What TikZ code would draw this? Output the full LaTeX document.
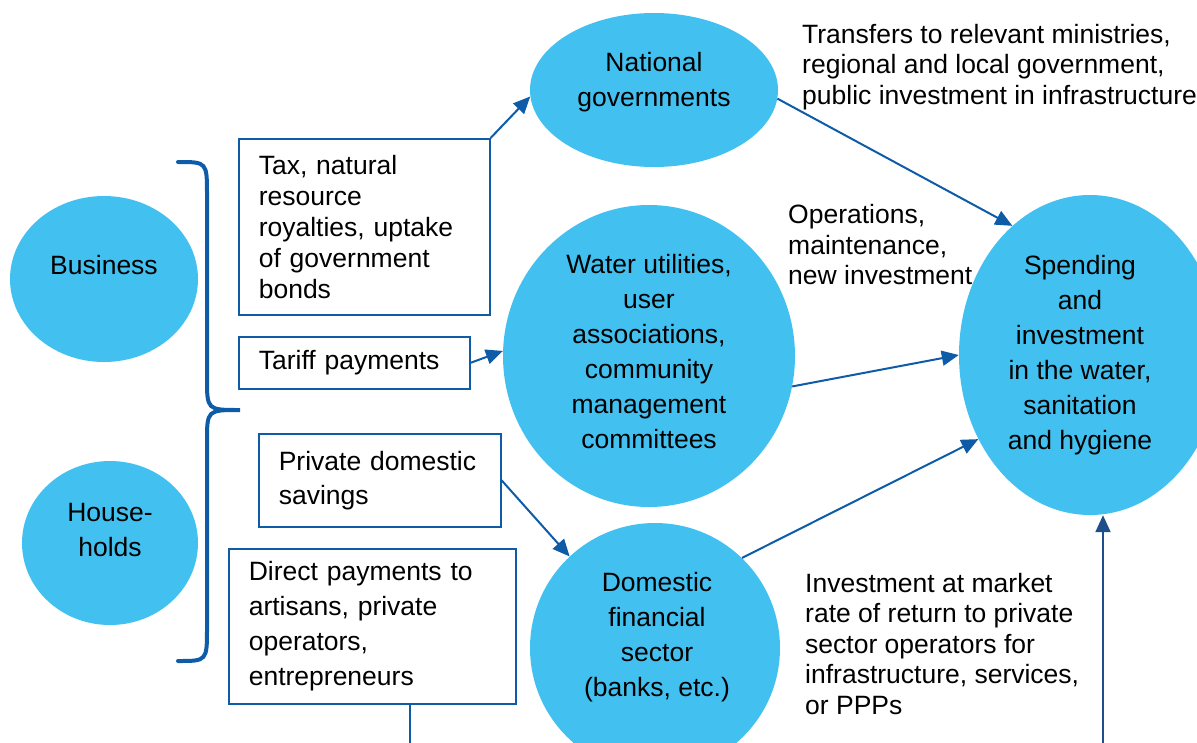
\documentclass[tikz,border=0pt]{standalone}
\usepackage{fontspec}
\setmainfont{Liberation Sans}
\usetikzlibrary{shapes.geometric,arrows.meta}
\definecolor{wsblue}{RGB}{66,193,240}
\definecolor{wsline}{RGB}{14,92,168}
\definecolor{wsnavy}{RGB}{31,78,138}
\begin{document}
\begin{tikzpicture}[x=1pt,y=-1pt,
  every node/.style={font=\fontsize{26.5}{35}\selectfont},
  pool/.style={ellipse,fill=wsblue,draw=none,inner sep=0pt},
  words/.style={inner sep=0pt,align=center},
  note/.style={inner sep=0pt,align=left,anchor=west,font=\fontsize{26.5}{30.5}\selectfont},
  flowbox/.style={draw=wsline,line width=1.6pt,anchor=north west,inner xsep=20pt,inner ysep=0pt,align=left},
  flow/.style={draw=wsline,line width=2pt,-{Triangle[length=17pt,width=15pt]}}]
\useasboundingbox (0,0) rectangle (1197,742);
% sources of money
\node[pool,minimum width=188,minimum height=166] (business) at (104,279) {};
\node[words] (businesstext) at (104,265) {Business};
\node[pool,minimum width=176,minimum height=164] (households) at (110,543) {};
\node[words] (householdstext) at (110,530) {House-\\holds};
\draw[wsline,line width=4pt,line cap=round] (178,162) .. controls (207,162) .. (207,195) -- (207,378)
  .. controls (207,410) .. (240,410) .. controls (207,410) .. (207,442) -- (207,628) .. controls (207,661) .. (178,661);
% channels
\node[flowbox,minimum width=251,minimum height=176,text width=211,font=\fontsize{26.5}{31}\selectfont] (taxbox) at (238,138)
  {Tax, natural\\resource\\royalties, uptake\\of government\\bonds};
\node[flowbox,minimum width=231,minimum height=52,text width=191] (tariffbox) at (238,336) {Tariff payments};
\node[flowbox,minimum width=242,minimum height=93,text width=202,font=\fontsize{26.5}{34}\selectfont] (savingsbox) at (258,433)
  {Private domestic\\savings};
\node[flowbox,minimum width=287,minimum height=155,text width=247] (directbox) at (228,548)
  {Direct payments to\\artisans, private\\operators,\\entrepreneurs};
% intermediaries
\node[pool,minimum width=248,minimum height=154] (natgov) at (654,90) {};
\node[words] (natgovtext) at (654,82) {National\\governments};
\node[pool,minimum width=292,minimum height=302] (water) at (649,356) {};
\node[words] (watertext) at (649,352) {Water utilities,\\user\\associations,\\community\\management\\committees};
\node[pool,minimum width=250,minimum height=250] (domfin) at (655,648) {};
\node[words] (domfintext) at (657,637) {Domestic\\financial\\sector\\(banks, etc.)};
\node[pool,minimum width=262,minimum height=320] (spending) at (1090,355) {};
\node[words] (spendingtext) at (1080,355) {Spending\\and\\investment\\in the water,\\sanitation\\and hygiene};
% flow labels
\node[note] (transfers) at (802,67) {Transfers to relevant ministries,\\regional and local government,\\public investment in infrastructure};
\node[note] (operations) at (788,245) {Operations,\\maintenance,\\new investment};
\node[note] (market) at (805,644) {Investment at market\\rate of return to private\\sector operators for\\infrastructure, services,\\or PPPs};
% flows
\coordinate (directout) at (410,745);
\coordinate (outside) at (1103,745);
\draw[flow] (taxbox.north east) -- (natgov.183);
\draw[flow] (tariffbox.east) -- (water.178);
\draw[flow] (savingsbox.east) -- (domfin.133);
\draw[flow] (natgov.-4) -- (spending.121);
\draw[flow] (water.-12) -- (spending.180);
\draw[flow] (domfin.46) -- (spending.217);
\draw[flow,draw=wsnavy] (outside) -- (outside |- spending.south);
\draw[wsline,line width=1.6pt] (directbox.south -| directout) -- (directout);
\end{tikzpicture}
\end{document}
